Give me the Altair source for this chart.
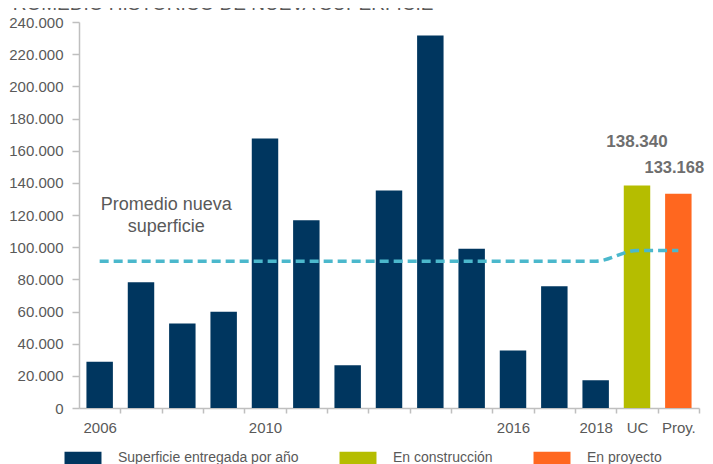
import json
import altair as alt
import pandas as pd

# ---------------- data ----------------
categories = ["2006", "2007", "2008", "2009", "2010", "2011", "2012", "2013",
              "2014", "2015", "2016", "2017", "2018", "UC", "Proy."]
values = [28700, 78200, 52500, 59800, 167600, 116800, 26600, 135200,
          231600, 99000, 35800, 75700, 17300, 138340, 133168]
series = ["Superficie entregada por año"] * 13 + ["En construcción", "En proyecto"]
average = [91300] * 13 + [97900, 97900]
shown_ticks = ["2006", "2010", "2016", "2018", "UC", "Proy."]
series_names = ["Superficie entregada por año", "En construcción", "En proyecto"]
series_colors = ["#00365F", "#B5BD00", "#FF671F"]
y_ticks = list(range(0, 240001, 20000))
title_text = "PROMEDIO HISTÓRICO DE NUEVA SUPERFICIE"
annotation_text = "Promedio nueva\nsuperficie"
annotation_category = "2008"
annotation_value = 122800

df = pd.DataFrame({
    "cat": categories,
    "value": values,
    "series": series,
    "avg": average,
    "idx": list(range(len(categories))),
})
ann = pd.DataFrame({"cat": [annotation_category], "value": [annotation_value], "text": [annotation_text]})

FONT = "Liberation Sans, Arial, sans-serif"
GREY = "#595959"

PAD_INNER = 0.36
STEP = 620 / len(categories)
HALF_GAP = PAD_INNER * STEP / 2

label_expr = "indexof(" + json.dumps(shown_ticks) + ", datum.label) >= 0 ? datum.label : ''"

x_enc = alt.X(
    "cat:N", sort=categories, title=None,
    scale=alt.Scale(domain=categories, paddingInner=PAD_INNER, paddingOuter=PAD_INNER / 2),
    axis=alt.Axis(labelAngle=0, labelExpr=label_expr, bandPosition=1, tickExtra=False,
                  tickOffset=HALF_GAP, labelOffset=-HALF_GAP,
                  tickSize=5, labelPadding=7),
)
y_scale = alt.Scale(domain=[0, 240000], nice=False)
y_axis = alt.Axis(values=y_ticks, tickCount=len(y_ticks) + 2, format=",.0f", grid=False,
                  tickSize=7, labelPadding=9, labelOverlap=False)

base = alt.Chart(df)

bars = base.mark_bar().encode(
    x=x_enc,
    y=alt.Y("value:Q", scale=y_scale, axis=y_axis, title=None),
    color=alt.Color(
        "series:N",
        scale=alt.Scale(domain=series_names, range=series_colors),
        legend=alt.Legend(
            title=None, orient="none", direction="horizontal",
            legendX=-9, legendY=423, padding=0,
            symbolType="M-1.45,-0.5H1.45V0.5H-1.45Z", symbolSize=650,
            symbolStrokeWidth=0, symbolOpacity=1,
            labelFont=FONT, labelFontSize=14, labelColor=GREY,
            labelOffset=22, columnPadding=40, labelLimit=400,
        ),
    ),
)

line = base.mark_line(
    color="#4BB8CC", strokeWidth=3.5, strokeDash=[9, 5], interpolate="monotone"
).encode(
    x=alt.X("cat:N", sort=categories),
    y=alt.Y("avg:Q", scale=y_scale, axis=y_axis, title=None),
    order="idx:Q",
)

lbl_uc = base.transform_filter(alt.datum.cat == "UC").mark_text(
    dy=-39, fontSize=17, fontWeight="bold", font=FONT, color="#6E6E6E", baseline="alphabetic"
).encode(x=alt.X("cat:N", sort=categories), y=alt.Y("value:Q", scale=y_scale),
         text=alt.Text("value:Q", format=",.0f"))

lbl_pr = base.transform_filter(alt.datum.cat == "Proy.").mark_text(
    dy=-21, dx=-4, fontSize=16.5, fontWeight="bold", font=FONT, color="#6E6E6E", baseline="alphabetic"
).encode(x=alt.X("cat:N", sort=categories), y=alt.Y("value:Q", scale=y_scale),
         text=alt.Text("value:Q", format=",.0f"))

annot = alt.Chart(ann).mark_text(
    dx=-16, fontSize=18, font=FONT, color=GREY, baseline="alphabetic",
    lineBreak="\n", lineHeight=22, align="center",
).encode(x=alt.X("cat:N", sort=categories), y=alt.Y("value:Q", scale=y_scale), text="text:N")

chart = alt.layer(bars, line, lbl_uc, lbl_pr, annot).properties(
    width=620, height=386,
    autosize=alt.AutoSizeParams(type="none"),
    padding={"left": 71, "top": 14, "right": 6, "bottom": 56},
    title=alt.TitleParams(
        text=title_text, anchor="start", frame="group", orient="top",
        offset=-14, dx=-79, font=FONT, fontSize=19, fontWeight="normal",
        color=GREY, baseline="alphabetic",
    ),
).configure(
    locale={"number": {"decimal": ",", "thousands": ".", "grouping": [3], "currency": ["", ""]}}
).configure_view(stroke=None).configure_axis(
    domainColor="#BFBFBF", tickColor="#BFBFBF", domainWidth=1.5, tickWidth=1.5,
    labelColor=GREY, labelFont=FONT, labelFontSize=15,
)

chart.save("out.html", embed_options={"renderer": "svg", "actions": False})
